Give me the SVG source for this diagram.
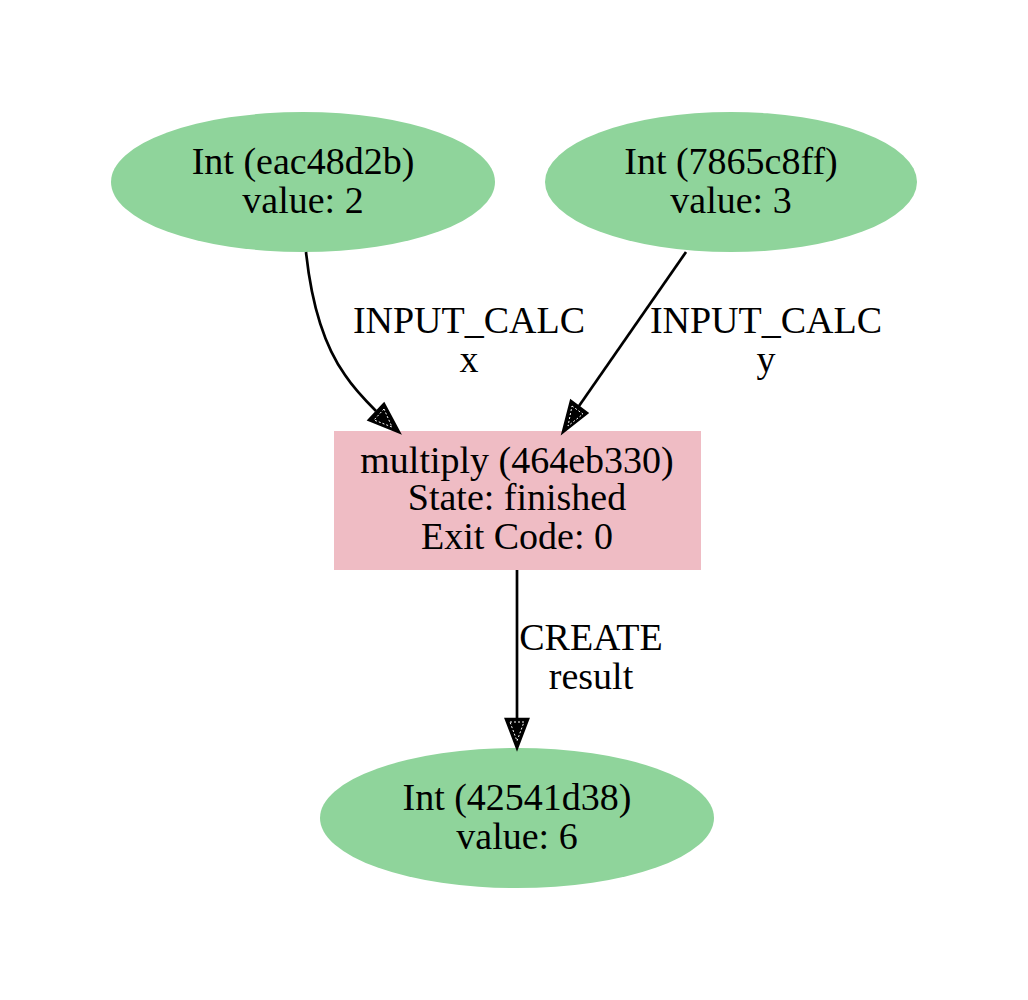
<svg xmlns="http://www.w3.org/2000/svg" width="1028" height="1000" viewBox="0 0 1028 1000">
<style>
text{font-family:"Liberation Serif","Times New Roman",serif;font-size:38px;fill:#000;text-anchor:middle}
.data{fill:#8fd49b;stroke:none}
.calc{fill:#efbcc4;stroke:none}
.edge{fill:none;stroke:#000;stroke-width:2.7}
.head{fill:#000;stroke:#000;stroke-width:2.7;stroke-linejoin:miter}
.inner{fill:none;stroke:#fff;stroke-width:1;stroke-dasharray:2,2}
</style>
<rect width="1028" height="1000" fill="#fff"/>
<g id="n1">
<ellipse class="data" cx="303" cy="182" rx="192" ry="70"/>
<text x="303" y="174">Int (eac48d2b)</text>
<text x="303" y="213">value: 2</text>
</g>
<g id="n2">
<ellipse class="data" cx="731" cy="182" rx="186" ry="70"/>
<text x="731" y="174">Int (7865c8ff)</text>
<text x="731" y="213">value: 3</text>
</g>
<g id="n3">
<rect class="calc" x="334" y="431" width="367" height="139"/>
<text x="517" y="473">multiply (464eb330)</text>
<text x="517" y="510">State: finished</text>
<text x="517" y="549">Exit Code: 0</text>
</g>
<g id="n4">
<ellipse class="data" cx="517" cy="818" rx="197" ry="70"/>
<text x="517" y="810">Int (42541d38)</text>
<text x="517" y="849">value: 6</text>
</g>
<g id="edges">
<path class="edge" d="M306,252 C310,290 320,340 345,375 C355,390 365,400 376,411"/>
<polygon class="head" points="384,404 369,420 399,432"/>
<polygon class="inner" points="384,409 374,420 392,427"/>
<text x="469" y="333">INPUT_CALC</text>
<text x="469" y="372">x</text>
<path class="edge" d="M686,252 L579,406"/>
<polygon class="head" points="571,401 587,413 563,432"/>
<polygon class="inner" points="572,406 583,414 568,426"/>
<text x="766" y="333">INPUT_CALC</text>
<text x="766" y="372">y</text>
<path class="edge" d="M517,570 L517,718"/>
<polygon class="head" points="506,719 528,719 517,748"/>
<polygon class="inner" points="510,722 524,722 517,741"/>
<text x="591" y="650">CREATE</text>
<text x="591" y="689">result</text>
</g>
</svg>
